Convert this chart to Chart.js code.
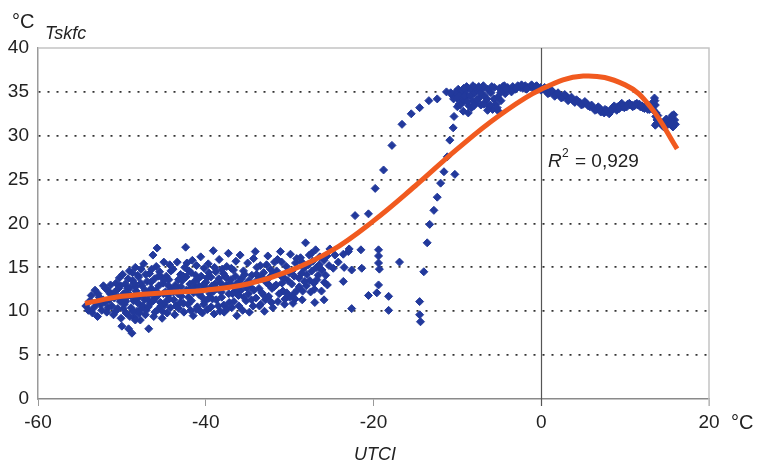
<!DOCTYPE html>
<html>
<head>
<meta charset="utf-8">
<script src="https://cdn.jsdelivr.net/npm/chart.js@4"></script>
<style>
  body { margin: 0; background: #fff; }
</style>
</head>
<body>
<canvas id="tskChart" width="761" height="464"></canvas>
<script>
// axis ranges / tick steps
const xRange = [-60, 20];
const yRange = [0, 40];
const xStep = 20;
const yStep = 5;

const coldCloudA = [
  [-54.3,10.6],[-54.0,10.1],[-53.8,11.2],[-53.5,9.8],[-53.2,12.4],[-53.0,10.9],[-52.7,11.6],[-52.4,10.1],
  [-52.2,12.9],[-52.0,11.0],[-51.8,9.9],[-51.6,12.3],[-51.4,12.0],[-51.2,10.6],[-51.0,9.6],[-50.9,11.5],
  [-50.7,13.2],[-50.5,10.3],[-50.4,12.6],[-50.2,11.1],[-50.1,9.2],[-50.0,8.3],[-50.3,13.8],[-51.5,11.3],
  [-52.9,9.4]
];
const coldCloudB = [
  [-49.9,14.2],[-49.8,12.0],[-49.7,10.8],[-49.6,13.1],[-49.5,9.8],[-49.4,11.6],[-49.2,8.0],[-49.1,14.6],
  [-49.0,12.7],[-48.9,10.4],[-48.8,7.5],[-48.7,13.5],[-48.6,11.2],[-48.5,9.3],[-48.4,15.0],[-48.3,12.3],
  [-48.2,10.0],[-48.0,13.9],[-47.9,11.7],[-47.8,9.0],[-47.7,14.8],[-47.6,12.9],[-47.5,10.6],[-47.4,15.4],
  [-47.3,11.3],[-47.2,9.6],[-47.0,13.4],[-46.9,12.1],[-46.8,8.0],[-46.7,14.3],[-46.6,10.9],[-46.5,12.6],
  [-46.3,16.4],[-46.2,9.4],[-46.1,13.7],[-46.0,11.5],[-45.9,15.1],[-45.8,17.2],[-45.7,10.2],[-45.6,12.9],
  [-45.5,14.5],[-45.4,11.0],[-45.2,9.2],[-45.1,13.2],[-45.0,15.6],[-44.9,10.7],[-44.8,12.2],[-44.7,14.0],
  [-44.6,9.8],[-44.5,11.8],[-44.4,13.6],[-44.3,15.3],[-44.2,10.4],[-44.1,12.5],[-48.1,14.1],[-47.1,10.1],
  [-46.4,11.9],[-45.3,13.9],[-49.3,12.6],[-48.4,9.0]
];
const coldCloudC = [
  [-43.9,14.8],[-43.8,11.3],[-43.7,9.6],[-43.6,13.0],[-43.4,15.6],[-43.3,12.0],[-43.2,10.3],[-43.0,14.2],
  [-42.9,11.7],[-42.8,13.5],[-42.6,9.9],[-42.5,15.0],[-42.4,17.3],[-42.3,12.4],[-42.1,10.8],[-42.0,14.6],
  [-41.9,13.1],[-41.7,11.2],[-41.6,15.8],[-41.5,9.5],[-41.3,12.8],[-41.2,14.1],[-41.0,10.5],[-40.9,13.7],
  [-40.8,11.9],[-40.6,16.2],[-40.5,12.3],[-40.4,9.8],[-40.2,14.9],[-40.1,11.1],[-40.0,13.3],[-39.8,10.2],
  [-39.7,15.4],[-39.5,12.0],[-39.4,13.9],[-39.2,11.4],[-39.1,16.9],[-39.0,9.7],[-38.8,14.5],[-38.7,12.6],
  [-38.5,10.6],[-38.4,15.9],[-38.2,13.2],[-38.1,11.6],[-37.9,14.3],[-37.8,9.9],[-37.6,12.9],[-37.5,15.1],
  [-37.3,16.6],[-37.2,11.0],[-37.0,13.6],[-36.9,10.4],[-36.7,14.7],[-36.6,12.2],[-36.4,15.7],[-36.3,9.5],
  [-36.1,11.8],[-36.0,13.4],[-43.5,12.7],[-42.7,14.0],[-41.8,10.1],[-41.1,15.2],[-40.3,13.0],[-39.6,11.5],
  [-38.9,13.1],[-38.3,10.0],[-37.7,14.0],[-36.8,12.0]
];
const coldCloudD = [
  [-35.9,16.4],[-35.8,12.4],[-35.6,10.1],[-35.5,14.6],[-35.3,13.0],[-35.2,11.2],[-35.0,15.5],[-34.8,9.9],
  [-34.7,12.8],[-34.5,14.1],[-34.3,16.0],[-34.1,16.8],[-34.0,11.5],[-33.8,13.6],[-33.6,10.6],[-33.5,15.2],
  [-33.3,12.1],[-33.1,14.4],[-33.0,10.0],[-32.8,13.3],[-32.6,16.3],[-32.5,11.7],[-32.3,14.8],[-32.1,12.6],
  [-32.0,10.4],[-31.8,15.6],[-31.6,13.0],[-31.4,11.1],[-31.1,16.8],[-31.0,14.0],[-30.8,12.3],[-30.6,10.8],
  [-30.4,15.1],[-30.2,13.5],[-30.0,11.6],[-34.9,12.0],[-33.9,15.0],[-32.9,11.3],[-31.9,14.3],[-30.9,13.2]
];
const coldCloudE = [
  [-29.9,16.5],[-29.7,14.6],[-29.5,12.0],[-29.3,15.5],[-29.1,12.4],[-28.9,13.8],[-28.7,16.1],[-28.5,11.3],
  [-28.3,14.9],[-28.1,17.8],[-28.0,12.9],[-27.8,15.3],[-27.6,13.5],[-27.4,16.6],[-27.1,13.2],[-27.0,11.0],
  [-26.8,15.0],[-26.6,14.1],[-26.4,16.2],[-26.2,12.3],[-25.9,11.3],[-25.9,15.8],[-25.7,14.1],[-25.5,13.0],
  [-25.2,17.1],[-25.3,15.2],[-26.9,17.0],[-28.6,14.3],[-29.6,10.9],[-27.5,12.2]
];
const coldFill1 = [
  [-53.65,11.8],[-53.35,10.4],[-52.85,12.0],[-52.55,10.7],[-52.25,11.3],[-51.95,12.6],[-51.65,10.4],[-51.35,13.0],
  [-51.05,11.9],[-50.75,10.0],[-50.45,11.6],[-50.15,12.9],[-49.85,10.3],[-49.55,11.1],[-49.25,13.7],[-48.95,11.8],
  [-48.65,10.0],[-48.35,12.8],[-48.05,10.9],[-47.75,13.2],[-47.45,11.9],[-47.15,14.2],[-46.85,10.5],[-46.55,13.3],
  [-46.25,11.2],[-45.95,12.3],[-45.65,14.0],[-45.35,10.6],[-45.05,12.0],[-44.75,11.1],[-44.45,12.9],[-44.15,14.6],
  [-49.45,12.2],[-48.75,14.4],[-47.95,9.8],[-47.25,12.4],[-46.45,14.8],[-45.75,11.8],[-44.95,13.6],[-50.85,12.2],
  [-49.05,9.4],[-46.05,9.9],[-44.35,11.4],[-48.25,11.5],[-47.65,10.3],[-46.95,11.4],[-45.15,10.0],[-49.75,11.4],
  [-48.55,13.2],[-46.75,12.0]
];
const coldFill2 = [
  [-43.85,12.2],[-43.55,10.6],[-43.25,13.6],[-42.95,12.8],[-42.65,10.9],[-42.35,13.9],[-42.05,11.6],[-41.75,14.4],
  [-41.45,12.1],[-41.15,10.2],[-40.85,12.9],[-40.55,14.0],[-40.25,10.8],[-39.95,12.6],[-39.65,14.4],[-39.35,10.5],
  [-39.05,12.3],[-38.75,11.3],[-38.45,13.7],[-38.15,12.2],[-37.85,10.7],[-37.55,13.8],[-37.25,12.0],[-36.95,14.9],
  [-36.65,11.1],[-36.35,13.1],[-36.05,10.6],[-35.75,13.7],[-35.45,11.6],[-35.15,12.7],[-43.05,11.0],[-42.25,15.5],
  [-41.35,13.4],[-40.45,11.6],[-39.85,13.8],[-38.95,15.0],[-38.05,14.8],[-37.15,13.2],[-36.25,12.5],[-35.35,14.2],
  [-41.95,12.5],[-40.65,10.0],[-39.25,12.9],[-37.45,10.3],[-36.45,14.0]
];
const coldFill3 = [
  [-34.85,13.5],[-34.55,11.3],[-34.25,12.4],[-33.95,14.2],[-33.65,12.6],[-33.35,13.9],[-33.05,11.8],[-32.75,15.3],
  [-32.45,13.0],[-32.15,11.0],[-31.85,12.8],[-31.55,14.6],[-31.25,12.0],[-30.95,15.6],[-30.65,13.8],[-30.35,12.1],
  [-30.05,14.4],[-29.75,13.1],[-29.45,14.0],[-29.15,16.0],[-28.85,12.8],[-28.55,15.6],[-28.25,13.4],[-27.95,14.2],
  [-27.65,16.4],[-27.35,14.6],[-27.05,12.5],[-26.75,13.6],[-26.45,15.3],[-26.15,14.7],[-25.85,13.3],[-25.55,16.3],
  [-34.35,10.6],[-33.45,10.8],[-32.35,13.9],[-31.45,15.9],[-30.55,11.4],[-29.35,11.4],[-28.45,12.3],[-27.25,15.7]
];
const midScatter = [
  [-24.8,14.9],[-24.6,16.4],[-23.6,16.5],[-23.5,15.0],[-23.6,13.4],[-23.0,16.8],[-22.6,14.7],[-22.6,10.3],
  [-22.2,20.9],[-21.5,17.0],[-21.4,14.9],[-20.6,21.1],[-20.6,11.8],[-19.6,12.1],[-19.4,13.0],[-19.4,17.0],
  [-19.4,16.3],[-19.4,15.5],[-19.3,14.8],[-18.2,11.7],[-18.2,10.1],[-16.9,15.6],[-24.2,15.6],[-22.9,17.1]
];
const warmArc = [
  [-19.8,24.0],[-18.8,26.1],[-17.8,28.9],[-16.6,31.3],[-15.5,32.5],[-14.5,33.2],[-13.4,34.0],[-12.4,34.2],
  [-11.3,35.0]
];
const steepBranch = [
  [-14.5,11.1],[-14.5,9.6],[-14.4,8.8],[-14.0,14.5],[-13.6,17.8],[-13.3,19.9],[-12.8,21.5],[-12.4,23.0],
  [-12.0,24.6],[-11.6,25.9],[-10.3,25.6],[-11.2,27.6],[-10.9,29.5],[-10.5,30.9],[-10.4,32.2],[-10.0,33.3]
];
const plateau = [
  [-9.8,33.6],[-9.6,34.2],[-9.4,34.8],[-9.2,33.9],[-9.0,35.1],[-8.8,34.5],[-8.6,33.4],[-8.4,35.3],
  [-8.2,34.0],[-8.0,34.8],[-7.8,33.7],[-7.6,35.2],[-7.4,34.3],[-7.2,33.5],[-7.0,35.4],[-6.8,34.6],
  [-6.6,33.9],[-6.4,35.3],[-6.2,33.3],[-6.0,34.9],[-5.8,33.0],[-5.6,35.5],[-5.4,33.6],[-5.2,34.4],
  [-5.0,35.4],[-4.8,34.0],[-4.6,35.6],[-4.3,34.8],[-4.0,35.5],[-3.7,35.2],[-3.4,35.6],[-3.1,35.3],
  [-2.8,35.7],[-2.5,35.5],[-2.2,35.4],[-1.9,35.7],[-1.6,35.5],[-1.3,35.6],[-1.0,35.4],[-0.7,35.6],
  [-0.4,35.3],[-0.1,35.5],[-10.6,34.6],[-10.2,35.0],[-9.9,35.3],[-9.5,35.1],[-8.9,35.6],[-7.9,35.5],
  [-6.9,35.7],[-5.9,35.6],[-4.4,35.7],[-9.3,32.8],[-8.7,32.6],[-8.3,33.2],[-6.4,32.9],[-5.1,32.8],
  [-10.8,34.9],
  [-10.45,34.2],[-9.85,34.6],[-9.65,33.5],[-9.15,34.5],[-8.85,33.9],[-8.45,34.6],[-8.05,33.4],[-7.65,34.1],
  [-7.25,34.9],[-6.85,33.6],[-6.45,34.2],[-6.05,33.5],[-5.65,34.2],[-5.25,33.2],[-4.85,34.9],[-4.55,35.1],
  [-4.15,35.3],[-3.55,35.0],[-2.95,35.4],[-2.35,35.8],[-1.75,35.3],[-1.15,35.8],[-0.55,35.7],[-0.05,35.2],
  [-7.45,35.6],[-8.15,35.7],[-9.25,35.4],[-10.05,34.3]
];
const warmTail = [
  [0.2,35.3],[0.6,35.1],[1.0,34.9],[1.4,35.0],[1.8,34.7],[2.2,34.6],[2.6,34.4],[3.0,34.5],
  [3.4,34.2],[3.8,34.0],[4.2,34.1],[4.6,33.8],[5.0,33.6],[5.4,33.7],[5.8,33.3],[6.2,33.2],
  [6.6,33.0],[7.0,33.1],[7.3,32.8],[7.6,33.0],[7.9,32.7],[8.2,32.8],[8.5,33.2],[8.8,33.1],
  [9.1,33.3],[9.4,33.5],[9.7,33.3],[10.0,33.4],[10.3,33.6],[10.6,33.5],[10.9,33.3],[11.2,33.6],
  [11.5,33.5],[11.8,33.3],[12.1,33.2],[12.4,33.4],[12.7,33.0],[13.0,33.3],[13.3,33.8],[13.5,34.3],
  [13.6,33.5],[13.7,32.6],[13.8,31.8],[13.6,31.2],[13.9,32.3],[14.1,31.5],[14.4,31.2],[14.7,31.6],
  [15.0,31.2],[15.3,31.8],[15.6,32.3],[15.9,31.8],[16.0,31.3],[15.7,31.0],[14.9,31.9],[13.4,32.9],
  [0.4,35.5],[0.8,34.8],[1.2,35.2],[1.6,34.5],[2.0,34.9],[2.4,34.3],[2.8,34.7],[3.2,34.0],
  [3.6,34.4],[4.0,33.8],[4.4,33.9],[4.8,33.5],[5.2,33.9],[5.6,33.4],[6.0,33.5],[6.4,32.9],
  [6.8,33.3],[7.1,32.7],[7.5,32.6],[7.8,32.9],[8.1,32.5],[8.4,32.9],[8.7,33.4],[9.0,32.9],
  [9.3,33.1],[9.6,33.7],[9.9,33.2],[10.2,33.3],[10.5,33.7],[10.8,33.5],[11.1,33.4],[11.4,33.7],
  [11.7,33.6],[12.0,33.4],[12.3,33.1],[12.6,33.3],[12.9,33.0],[13.2,33.1],[13.55,34.0],[13.65,32.2],
  [13.75,31.4],[14.3,31.5],[14.6,31.0],[15.1,31.5],[15.5,32.0],[15.8,32.4],[15.4,31.3]
];

// polynomial trend line, read at points along the curve
const trendX = [-54.4, -50, -45, -40, -35, -30, -25, -20, -15, -10, -5, 0, 5, 10, 13, 16.2];
const trendY = [10.9, 11.7, 12.1, 12.4, 13.1, 14.6, 16.9, 20.3, 24.3, 28.5, 32.3, 35.3, 36.8, 35.8, 33.3, 28.5];

const r2Text = '= 0,929';

const toXY = arr => arr.map(p => ({ x: p[0], y: p[1] }));
const allPoints = [].concat(coldCloudA, coldCloudB, coldCloudC, coldCloudD, coldCloudE,
  coldFill1, coldFill2, coldFill3, midScatter, warmArc, steepBranch, plateau, warmTail);

const FONT = '"Liberation Sans", Arial, sans-serif';
Chart.defaults.font.family = FONT;
Chart.defaults.font.size = 19;
Chart.defaults.color = '#222';

const decor = {
  id: 'decor',
  beforeDatasetsDraw(chart) {
    const { ctx, chartArea: a, scales: { x } } = chart;
    ctx.save();
    // top and right frame
    ctx.strokeStyle = '#c4c4c4';
    ctx.lineWidth = 1.5;
    ctx.beginPath();
    ctx.moveTo(a.left, a.top);
    ctx.lineTo(a.right, a.top);
    ctx.lineTo(a.right, a.bottom + 7);
    ctx.stroke();
    // vertical line at 0
    const x0 = Math.round(x.getPixelForValue(0)) + 0.5;
    ctx.strokeStyle = '#555';
    ctx.lineWidth = 1.2;
    ctx.beginPath();
    ctx.moveTo(x0, a.top);
    ctx.lineTo(x0, a.bottom + 7);
    ctx.stroke();
    ctx.restore();
  },
  afterDraw(chart) {
    const { ctx } = chart;
    ctx.save();
    ctx.fillStyle = '#222';
    ctx.textBaseline = 'alphabetic';
    ctx.font = '20px ' + FONT;
    ctx.fillText('°C', 12, 28);
    ctx.fillText('°C', 731, 429);
    ctx.font = 'italic 18px ' + FONT;
    ctx.fillText('Tskfc', 45, 39);
    ctx.textAlign = 'center';
    ctx.fillText('UTCI', 375, 460);
    ctx.textAlign = 'left';
    // R² label
    ctx.font = 'italic 19px ' + FONT;
    ctx.fillText('R', 548, 167);
    ctx.font = '12px ' + FONT;
    ctx.fillText('2', 562, 157);
    ctx.font = '19px ' + FONT;
    ctx.fillText(r2Text, 575, 167);
    ctx.restore();
  }
};

new Chart(document.getElementById('tskChart'), {
  type: 'scatter',
  data: {
    datasets: [
      {
        type: 'line',
        data: trendX.map((v, i) => ({ x: v, y: trendY[i] })),
        borderColor: '#f15a1f',
        borderWidth: 5,
        pointRadius: 0,
        tension: 0.4,
        fill: false,
        order: 0
      },
      {
        data: toXY(allPoints),
        backgroundColor: '#22399c',
        borderColor: '#22399c',
        borderWidth: 1,
        pointStyle: 'rectRot',
        pointRadius: 4,
        order: 1
      }
    ]
  },
  options: {
    responsive: false,
    animation: false,
    events: [],
    layout: { padding: { top: 48, right: 52, bottom: 0, left: 0 } },
    plugins: { legend: { display: false }, tooltip: { enabled: false } },
    scales: {
      x: {
        type: 'linear',
        min: xRange[0],
        max: xRange[1],
        ticks: { stepSize: xStep, padding: 5, maxRotation: 0 },
        grid: { drawOnChartArea: false, drawTicks: true, tickLength: 7, tickColor: '#999' },
        border: { color: '#8a8a8a', width: 1.5 },
        afterFit(s) { s.height = 65; }
      },
      y: {
        min: yRange[0],
        max: yRange[1],
        ticks: { stepSize: yStep, padding: 9 },
        grid: {
          drawTicks: false,
          lineWidth: 1.8,
          color: c => (c.tick && (c.tick.value === yRange[0] || c.tick.value === yRange[1])) ? 'rgba(0,0,0,0)' : '#333'
        },
        border: { color: '#9a9a9a', width: 1.5, dash: [2, 7] },
        afterFit(s) { s.width = 38; }
      }
    }
  },
  plugins: [decor]
});
</script>
</body>
</html>
